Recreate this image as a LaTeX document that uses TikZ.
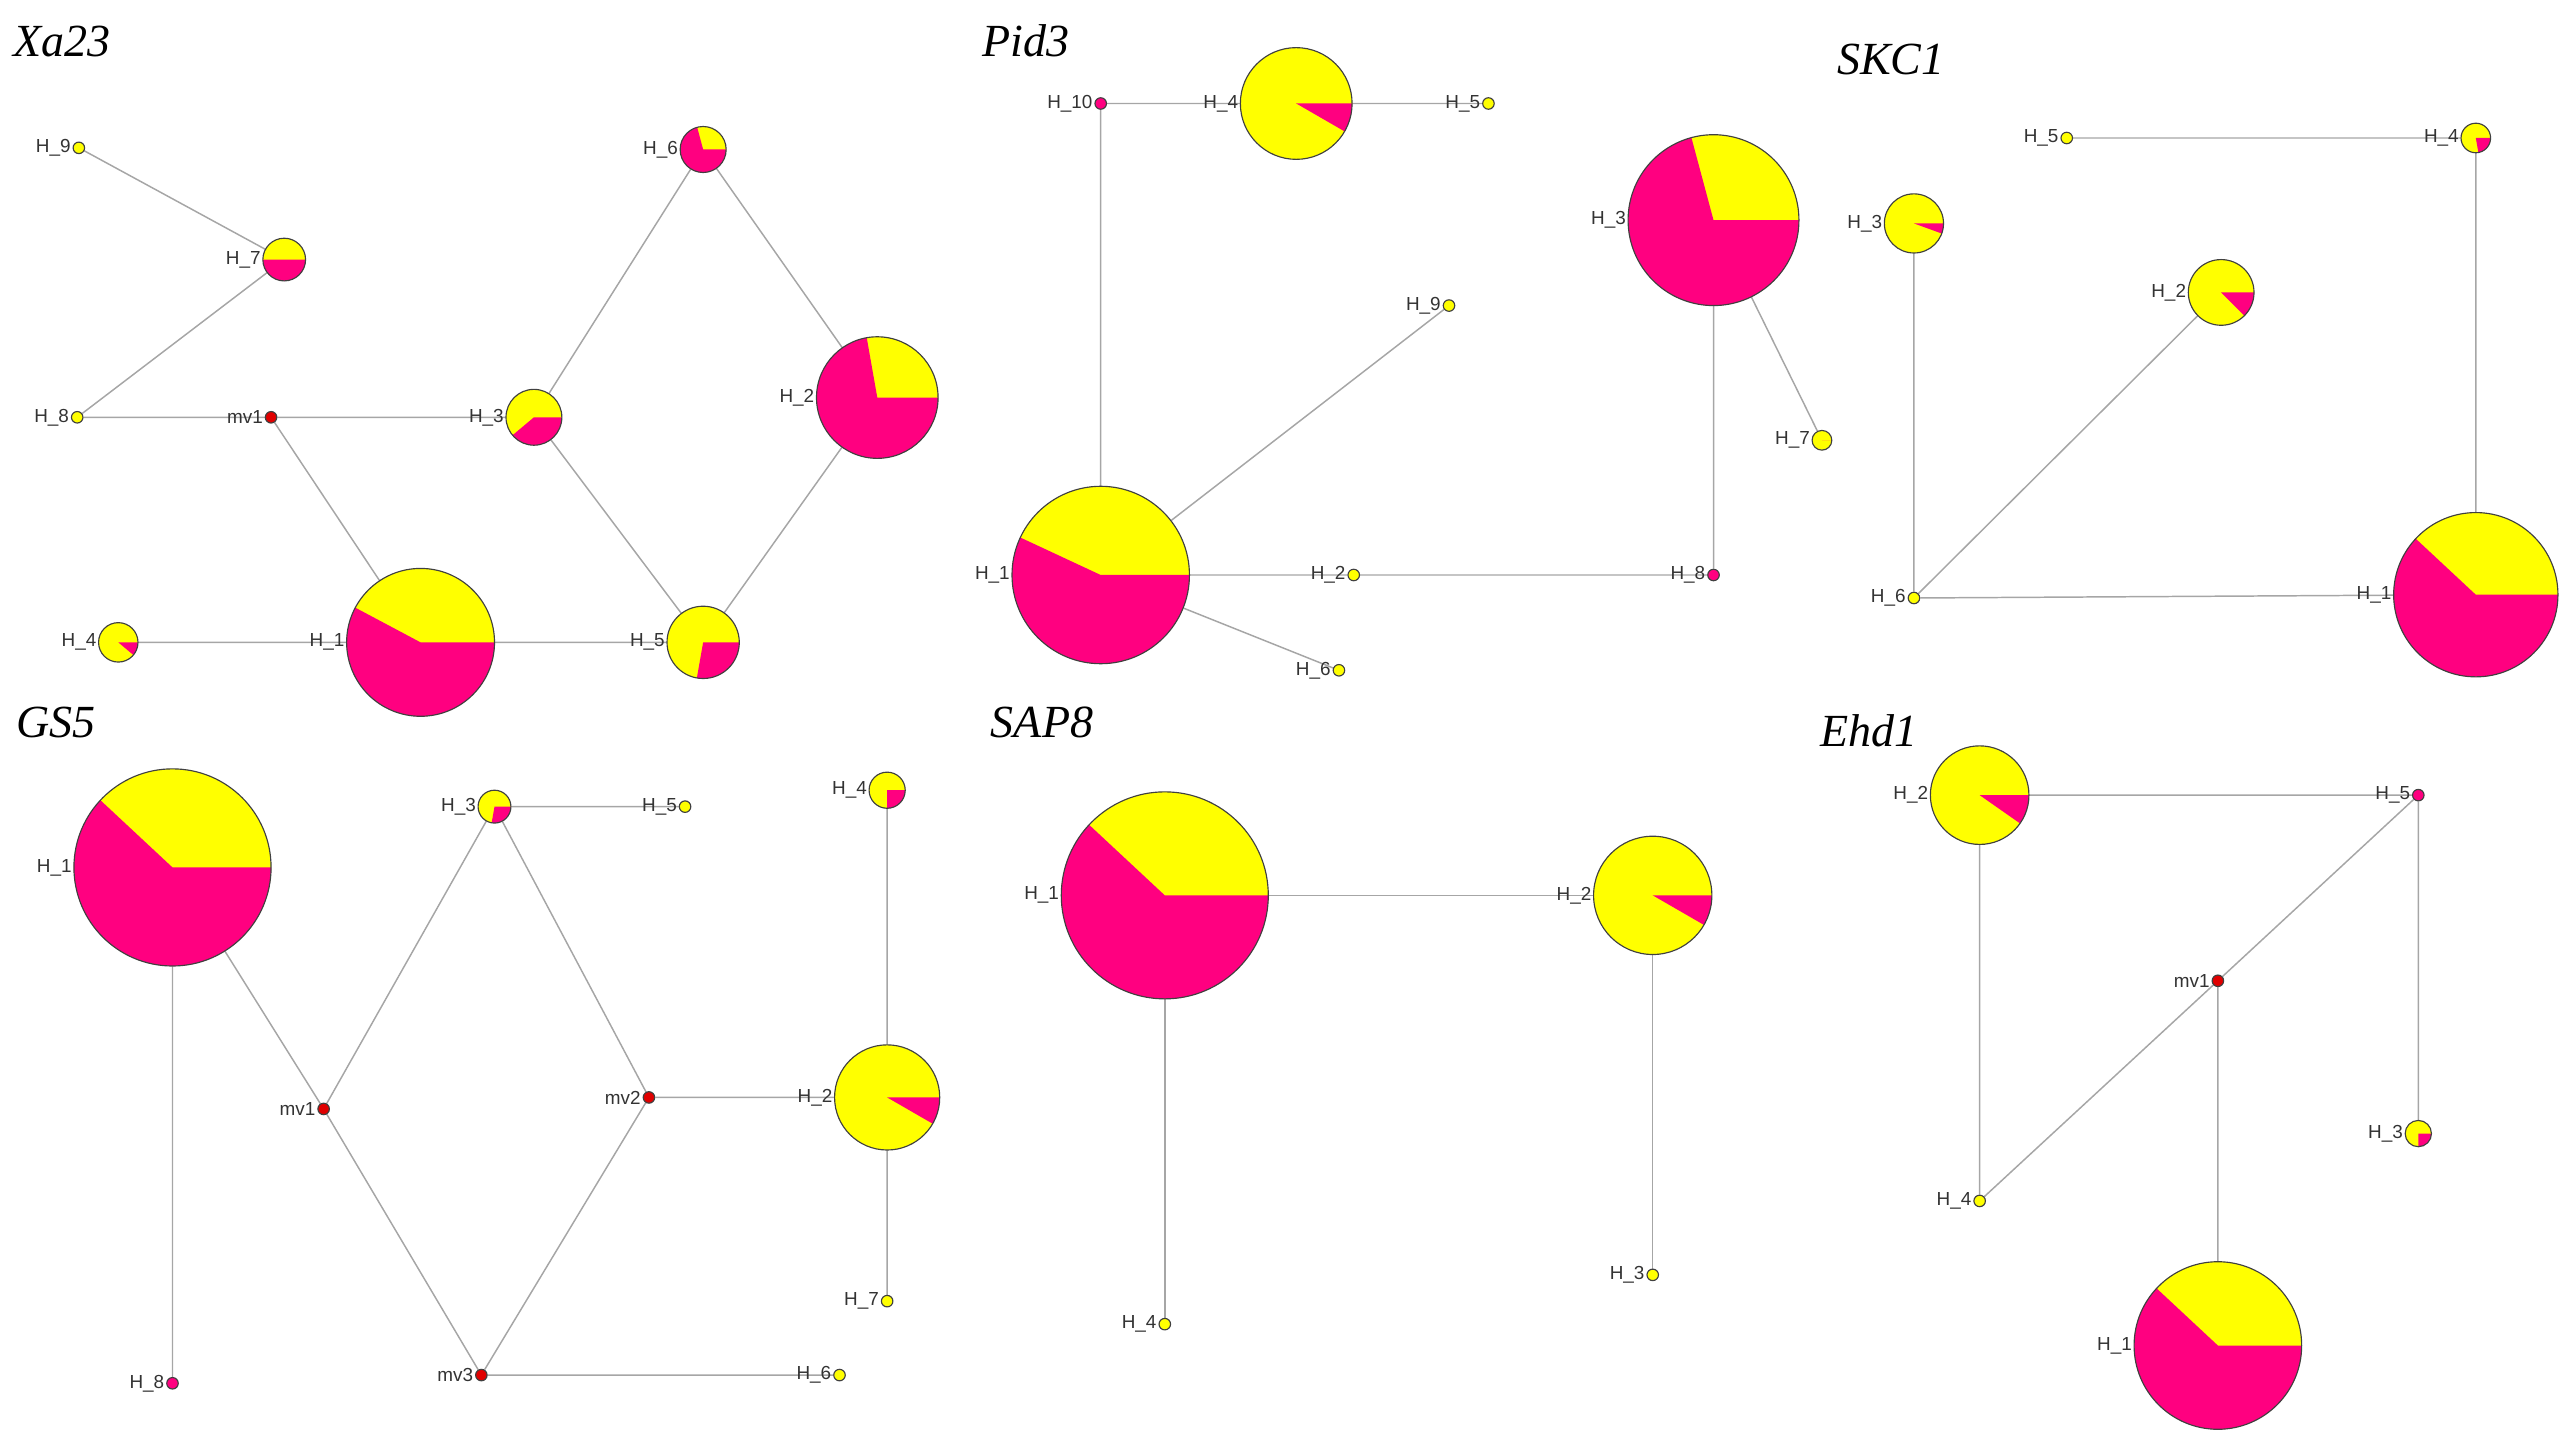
\documentclass[tikz,border=0pt]{standalone}
\usepackage{fontspec}
\setmainfont{Liberation Serif}
\setsansfont{Liberation Sans}
\pgfdeclarelayer{bg}
\pgfsetlayers{bg,main}
\definecolor{yel}{HTML}{FFFF00}
\definecolor{mag}{HTML}{FF0080}
\definecolor{mvred}{HTML}{E00000}
\tikzset{
  edge/.style={draw=black!35, line width=0.9pt},
  lbl/.style={font=\sffamily\fontsize{11.5}{11.5}\selectfont, text=black!80, inner sep=1pt},
  ttl/.style={font=\itshape\fontsize{28}{28}\selectfont, anchor=west, inner sep=0pt},
  rim/.style={draw=black!75, line width=0.7pt}
}
\newcommand\hp[7]{%
  \node[circle, minimum size=#4*2pt, inner sep=0pt] (#1) at (#2,#3) {};
  \begin{scope}[shift={(#2,#3)}]
    \fill[yel] (0,0) circle (#4pt);
    \fill[mag] (0,0) -- (#5:#4pt) arc[start angle=#5, end angle=#6, radius=#4pt] -- cycle;
    \draw[rim] (0,0) circle (#4pt);
  \end{scope}
  \node[lbl, anchor=east] at (#1.west) {#7};}
\newcommand\hd[5]{%
  \node[circle, minimum size=7pt, inner sep=0pt, fill=#4, rim] (#1) at (#2,#3) {};
  \node[lbl, anchor=east] at (#1.west) {#5};}
\begin{document}
\begin{tikzpicture}[x=1pt, y=-1pt]
\useasboundingbox (0,0) rectangle (1568,882);
% ---------------- Xa23
\node[ttl] (t1) at (8,25) {Xa23};
\hd{a9}{48}{90}{yel}{H\_9}
\hp{a7}{173}{158}{13}{180}{360}{H\_7}
\hd{a8}{47}{254}{yel}{H\_8}
\hd{amv}{165}{254}{mvred}{mv1}
\hp{a3}{325}{254}{17}{220}{360}{H\_3}
\hp{a6}{428}{91}{14}{105}{360}{H\_6}
\hp{a2}{534}{242}{37}{100}{360}{H\_2}
\hp{a4}{72}{391}{12}{320}{360}{H\_4}
\hp{a1}{256}{391}{45}{152}{360}{H\_1}
\hp{a5}{428}{391}{22}{260}{360}{H\_5}
\begin{pgfonlayer}{bg}
\draw[edge] (a9)--(a7) (a7)--(a8) (a8)--(amv) (amv)--(a3) (amv)--(a1) (a4)--(a1) (a1)--(a5)
  (a3)--(a6) (a3)--(a5) (a6)--(a2) (a2)--(a5);
\end{pgfonlayer}
% ---------------- Pid3
\node[ttl] (t2) at (598,25) {Pid3};
\hd{b10}{670}{63}{mag}{H\_10}
\hp{b4}{789}{63}{34}{330}{360}{H\_4}
\hd{b5}{906}{63}{yel}{H\_5}
\hp{b3}{1043}{134}{52}{105}{360}{H\_3}
\hd{b9}{882}{186}{yel}{H\_9}
\hp{b7}{1109}{268}{6}{0}{0}{H\_7}
\hp{b1}{670}{350}{54}{155}{360}{H\_1}
\hd{b2}{824}{350}{yel}{H\_2}
\hd{b8}{1043}{350}{mag}{H\_8}
\hd{b6}{815}{408}{yel}{H\_6}
\begin{pgfonlayer}{bg}
\draw[edge] (b10)--(b4) (b4)--(b5) (b10)--(b1) (b1)--(b9) (b1)--(b2) (b2)--(b8) (b1)--(b6)
  (b8)--(b3) (b3)--(b7);
\end{pgfonlayer}
% ---------------- SKC1
\node[ttl] (t3) at (1118,36) {SKC1};
\hd{c5}{1258}{84}{yel}{H\_5}
\hp{c4}{1507}{84}{9}{280}{360}{H\_4}
\hp{c3}{1165}{136}{18}{340}{360}{H\_3}
\hp{c2}{1352}{178}{20}{315}{360}{H\_2}
\hd{c6}{1165}{364}{yel}{H\_6}
\hp{c1}{1507}{362}{50}{137}{360}{H\_1}
\begin{pgfonlayer}{bg}
\draw[edge] (c5)--(c4) (c4)--(c1) (c3)--(c6) (c6)--(c2) (c6)--(c1);
\end{pgfonlayer}
% ---------------- GS5
\node[ttl] (t4) at (10,440) {GS5};
\hp{d1}{105}{528}{60}{137}{360}{H\_1}
\hd{d8}{105}{842}{mag}{H\_8}
\hp{d3}{301}{491}{10}{260}{360}{H\_3}
\hd{d5}{417}{491}{yel}{H\_5}
\hd{dm1}{197}{675}{mvred}{mv1}
\hd{dm2}{395}{668}{mvred}{mv2}
\hd{dm3}{293}{837}{mvred}{mv3}
\hp{d4}{540}{481}{11}{270}{360}{H\_4}
\hp{d2}{540}{668}{32}{330}{360}{H\_2}
\hd{d7}{540}{792}{yel}{H\_7}
\hd{d6}{511}{837}{yel}{H\_6}
\begin{pgfonlayer}{bg}
\draw[edge] (d1)--(d8) (d1)--(dm1) (dm1)--(d3) (dm1)--(dm3) (d3)--(d5) (d3)--(dm2) (dm2)--(dm3)
  (dm2)--(d2) (dm3)--(d6) (d4)--(d2) (d2)--(d7);
\end{pgfonlayer}
% ---------------- SAP8
\node[ttl] (t5) at (603,440) {SAP8};
\hp{e1}{709}{545}{63}{137}{360}{H\_1}
\hp{e2}{1006}{545}{36}{330}{360}{H\_2}
\hd{e4}{709}{806}{yel}{H\_4}
\hd{e3}{1006}{776}{yel}{H\_3}
\begin{pgfonlayer}{bg}
\draw[edge] (e1)--(e2) (e1)--(e4) (e2)--(e3);
\end{pgfonlayer}
% ---------------- Ehd1
\node[ttl] (t6) at (1108,445) {Ehd1};
\hp{f2}{1205}{484}{30}{325}{360}{H\_2}
\hd{f5}{1472}{484}{mag}{H\_5}
\hd{fm1}{1350}{597}{mvred}{mv1}
\hp{f3}{1472}{690}{8}{270}{360}{H\_3}
\hd{f4}{1205}{731}{yel}{H\_4}
\hp{f1}{1350}{819}{51}{137}{360}{H\_1}
\begin{pgfonlayer}{bg}
\draw[edge] (f2)--(f5) (f2)--(f4) (f4)--(fm1) (fm1)--(f5) (f5)--(f3) (fm1)--(f1);
\end{pgfonlayer}
\end{tikzpicture}
\end{document}
